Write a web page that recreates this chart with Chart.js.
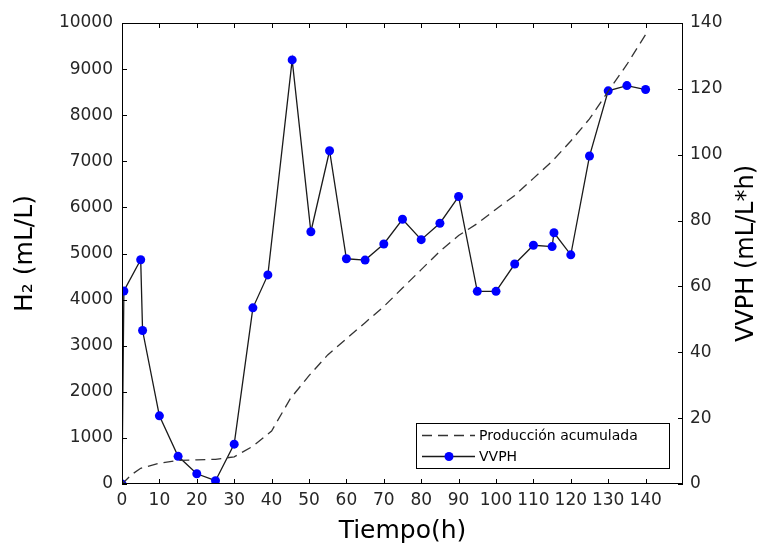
<!DOCTYPE html>
<html>
<head>
<meta charset="utf-8">
<script src="https://cdn.jsdelivr.net/npm/chart.js@4.4.1/dist/chart.umd.min.js"></script>
<style>
  html, body { margin: 0; padding: 0; background: #fff; }
  #wrap { width: 760px; height: 546px; }
</style>
</head>
<body>
<div id="wrap"><canvas id="chart" width="760" height="546"></canvas></div>
<script>
// VVPH (right axis)
const tiempoVVPH = [0, 0.5, 5, 5.5, 10, 15, 20, 25, 30, 35, 39, 45.5, 50.5, 55.5, 60, 65, 70, 75, 80, 85, 90, 95, 100, 105, 110, 115, 115.5, 120, 125, 130, 135, 140];
const vvph = [0, 58.6, 68.1, 46.6, 20.7, 8.4, 3.1, 1.0, 12.1, 53.5, 63.5, 128.8, 76.6, 101.2, 68.4, 68.0, 72.9, 80.4, 74.2, 79.2, 87.3, 58.5, 58.5, 66.8, 72.5, 72.1, 76.3, 69.6, 99.6, 119.4, 121.0, 119.8];

// Produccion acumulada (left axis)
const tiempoProd = [0, 2.5, 5, 10, 15, 20, 25, 30, 35, 40, 45, 50, 55, 60, 65, 70, 75, 80, 85, 90, 95, 100, 105, 110, 115, 120, 125, 130, 135, 140];
const produccion = [0, 200, 340, 450, 510, 525, 535, 590, 820, 1150, 1850, 2350, 2800, 3150, 3500, 3850, 4250, 4650, 5050, 5390, 5650, 5960, 6260, 6630, 7000, 7440, 7920, 8520, 9100, 9750];

const xTicks = [0, 10, 20, 30, 40, 50, 60, 70, 80, 90, 100, 110, 120, 130, 140];

const textColor = '#262626';
const fontFam = '"DejaVu Sans", sans-serif';

// box, inward ticks, right title and legend
const decoPlugin = {
  id: 'deco',
  afterDraw(chart) {
    const ctx = chart.ctx;
    const a = chart.chartArea;
    const sx = chart.scales.x, sy = chart.scales.y, sy1 = chart.scales.y1;
    const tl = 5;
    ctx.save();
    ctx.strokeStyle = '#000';
    ctx.lineWidth = 1;
    ctx.strokeRect(a.left + 0.5, a.top + 0.5, a.right - a.left - 1, a.bottom - a.top - 1);
    ctx.beginPath();
    xTicks.forEach(v => {
      const px = Math.round(sx.getPixelForValue(v)) + 0.5;
      ctx.moveTo(px, a.bottom); ctx.lineTo(px, a.bottom - tl);
      ctx.moveTo(px, a.top); ctx.lineTo(px, a.top + tl);
    });
    sy.ticks.forEach(t => {
      const py = Math.round(sy.getPixelForValue(t.value)) + 0.5;
      ctx.moveTo(a.left, py); ctx.lineTo(a.left + tl, py);
    });
    sy1.ticks.forEach(t => {
      const py = Math.round(sy1.getPixelForValue(t.value)) + 0.5;
      ctx.moveTo(a.right, py); ctx.lineTo(a.right - tl, py);
    });
    ctx.stroke();

    // right axis title, reading bottom to top
    ctx.fillStyle = '#000';
    ctx.font = '24px ' + fontFam;
    ctx.textAlign = 'center';
    ctx.textBaseline = 'middle';
    ctx.translate(747, (a.top + a.bottom) / 2);
    ctx.rotate(-Math.PI / 2);
    ctx.fillText('VVPH (mL/L*h)', 0, 0);
    ctx.restore();

    // legend inside plot
    ctx.save();
    const bw = 253, bh = 45;
    const bx = a.right - 14 - bw, by = a.bottom - 16 - bh;
    ctx.fillStyle = '#fff';
    ctx.fillRect(bx, by, bw, bh);
    ctx.strokeStyle = '#000';
    ctx.lineWidth = 1;
    ctx.strokeRect(bx + 0.5, by + 0.5, bw, bh);
    ctx.font = '14px ' + fontFam;
    ctx.textBaseline = 'middle';
    ctx.textAlign = 'left';
    chart.data.datasets.forEach((ds, i) => {
      const ly = by + 12.5 + i * 21;
      ctx.beginPath();
      ctx.strokeStyle = ds.borderColor;
      ctx.lineWidth = ds.borderWidth;
      ctx.setLineDash(ds.borderDash || []);
      ctx.moveTo(bx + 6, ly); ctx.lineTo(bx + 59, ly);
      ctx.stroke();
      ctx.setLineDash([]);
      if (ds.pointRadius > 0) {
        ctx.beginPath();
        ctx.fillStyle = ds.pointBackgroundColor;
        ctx.arc(bx + 33, ly, ds.pointRadius, 0, Math.PI * 2);
        ctx.fill();
      }
      ctx.fillStyle = '#000';
      ctx.fillText(ds.label, bx + 63, ly + 1);
    });
    ctx.restore();
  }
};

const plain = v => String(v);

new Chart(document.getElementById('chart'), {
  type: 'line',
  data: {
    datasets: [
      {
        label: 'Producción acumulada',
        data: tiempoProd.map((t, i) => ({ x: t, y: produccion[i] })),
        yAxisID: 'y',
        borderColor: '#333333',
        borderWidth: 1.3,
        borderDash: [10, 6],
        pointRadius: 0,
        tension: 0,
        fill: false
      },
      {
        label: 'VVPH',
        data: tiempoVVPH.map((t, i) => ({ x: t, y: vvph[i] })),
        yAxisID: 'y1',
        borderColor: '#1a1a1a',
        borderWidth: 1.3,
        pointRadius: 4.5,
        pointBackgroundColor: '#0000ff',
        pointBorderWidth: 0,
        pointBorderColor: '#0000ff',
        tension: 0,
        fill: false
      }
    ]
  },
  options: {
    responsive: false,
    animation: false,
    layout: { padding: { top: 23, left: 0, right: 0, bottom: 0 } },
    plugins: {
      legend: { display: false },
      tooltip: { enabled: false }
    },
    scales: {
      x: {
        type: 'linear',
        min: 0,
        max: 150,
        afterFit: s => { s.height = 62; },
        afterBuildTicks: s => { s.ticks = xTicks.map(v => ({ value: v })); },
        grid: { display: false, drawTicks: false },
        border: { display: false },
        ticks: { color: textColor, font: { family: fontFam, size: 17 }, padding: 6, maxRotation: 0, autoSkip: false, callback: plain },
        title: { display: true, text: 'Tiempo(h)', color: '#000', font: { family: fontFam, size: 25 }, padding: { top: 0, bottom: 0 } }
      },
      y: {
        position: 'left',
        min: 0,
        max: 10000,
        afterFit: s => { s.width = 122; },
        grid: { display: false, drawTicks: false },
        border: { display: false },
        ticks: { stepSize: 1000, color: textColor, font: { family: fontFam, size: 17 }, padding: 9, callback: plain },
        title: { display: true, text: 'H₂ (mL/L)', color: '#000', font: { family: fontFam, size: 25 }, padding: { top: 10, bottom: 0 } }
      },
      y1: {
        position: 'right',
        min: 0,
        max: 140,
        afterFit: s => { s.width = 77; },
        grid: { display: false, drawTicks: false },
        border: { display: false },
        ticks: { stepSize: 20, color: textColor, font: { family: fontFam, size: 17 }, padding: 7, callback: plain }
      }
    }
  },
  plugins: [decoPlugin]
});
</script>
</body>
</html>
